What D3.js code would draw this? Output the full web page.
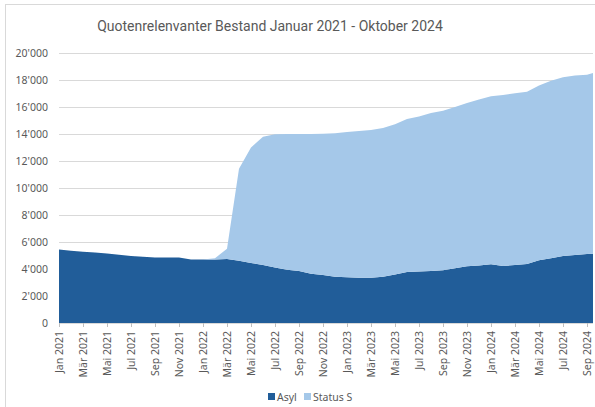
<!DOCTYPE html>
<html><head><meta charset="utf-8">
<script src="https://cdn.jsdelivr.net/npm/d3@7"></script>
<style>
html,body{margin:0;padding:0;background:#fff;}
svg{display:block;}
text{font-family:"Noto Sans","Open Sans",sans-serif;}
</style></head>
<body>
<svg id="c" width="595" height="407"></svg>
<script>
const months = ["Jan","Feb","Mär","Apr","Mai","Jun","Jul","Aug","Sep","Okt","Nov","Dez"];
const years = [2021, 2022, 2023, 2024];
const categories = [];
years.forEach(yr => months.forEach(m => categories.push(m + " " + yr)));
categories.splice(46); // Jan 2021 - Okt 2024

const asyl = [5450,5360,5280,5220,5140,5060,4970,4900,4850,4850,4850,4700,
              4700,4700,4740,4620,4450,4300,4120,3950,3850,3650,3550,3420,
              3380,3350,3350,3420,3600,3780,3820,3860,3900,4050,4200,4260,
              4350,4220,4300,4370,4650,4800,4960,5030,5110,5150];
const statusS = [0,0,0,0,0,0,0,0,0,0,0,0,
                 0,100,760,6800,8550,9500,9860,10050,10150,10350,10470,10630,
                 10770,10880,10950,11030,11120,11330,11480,11690,11820,11950,12100,12290,
                 12450,12670,12710,12760,12950,13150,13240,13300,13270,13500];
const seriesNames = ["Asyl","Status S"];
const colors = ["#215d99","#a5c8e9"];
const yTicks = [0,2000,4000,6000,8000,10000,12000,14000,16000,18000,20000];
const title = "Quotenrelenvanter Bestand Januar 2021 - Oktober 2024";

(function(){
const svg = d3.select("#c");
const W = 595, H = 407;
const pLeft = 59, pRight = 599, pTop = 53, pBottom = 323, clipRight = 593;

// chart frame
svg.append("rect").attr("x",5.5).attr("y",4.5).attr("width",W).attr("height",H)
  .attr("fill","none").attr("stroke","#d9d9d9");

const x = d3.scalePoint().domain(categories).range([pLeft, pRight]);
const y = d3.scaleLinear().domain([0,20000]).range([pBottom, pTop]);

// title
const t = svg.append("text").attr("x",270).attr("y",31).attr("text-anchor","middle")
  .attr("fill","#595959").attr("font-size",15).style("font-family","Roboto, 'Noto Sans', sans-serif")
  .text(title);
const tw = t.node().getComputedTextLength();
t.attr("font-size", 15 * 346 / tw);

// gridlines + y labels
const yAxis = d3.axisLeft(y).tickValues(yTicks).tickSize(-(clipRight-pLeft))
  .tickFormat(d => d3.format(",")(d).replace(/,/g,"'")).tickPadding(11);
const gy = svg.append("g").attr("transform",`translate(${pLeft},0)`).call(yAxis);
gy.select(".domain").remove();
gy.selectAll("line").attr("stroke","#d9d9d9").attr("stroke-width",1);
gy.selectAll("text").attr("fill","#595959").attr("font-size",10.5)
  .style("font-family","'Noto Sans','Open Sans',sans-serif");

// clip
svg.append("clipPath").attr("id","clip").append("rect")
  .attr("x",pLeft).attr("y",0).attr("width",clipRight-pLeft).attr("height",H);

const table = categories.map((c,i) => ({cat:c, "Asyl":asyl[i], "Status S":statusS[i]}));
const stack = d3.stack().keys(seriesNames)(table);
const area = d3.area().x(d => x(d.data.cat)).y0(d => y(d[0])).y1(d => y(d[1]));

svg.append("g").attr("clip-path","url(#clip)")
  .selectAll("path").data(stack).join("path")
  .attr("d", area).attr("fill", (d,i) => colors[i]);

// x axis
const labelCats = categories.filter((c,i) => i % 2 === 0);
const xAxis = d3.axisBottom(x).tickValues(labelCats).tickSize(4).tickPadding(4);
const gx = svg.append("g").attr("transform",`translate(0,${pBottom})`).call(xAxis);
gx.select(".domain").attr("stroke","#d9d9d9").attr("d",`M${pLeft},0.5H${clipRight}`);
gx.selectAll("line").attr("stroke","#bfbfbf");
gx.selectAll("text").attr("fill","#595959").attr("font-size",10.5)
  .style("font-family","'Noto Sans','Open Sans',sans-serif")
  .attr("transform","rotate(-90)").attr("text-anchor","end")
  .attr("x",-8).attr("y",0).attr("dy","0.35em");

// legend
const lg = svg.append("g");
const items = [{n:seriesNames[0],c:colors[0],x:268},{n:seriesNames[1],c:colors[1],x:304}];
items.forEach(it => {
  lg.append("rect").attr("x",it.x).attr("y",393).attr("width",7).attr("height",7).attr("fill",it.c);
  lg.append("text").attr("x",it.x+9).attr("y",400.5).attr("fill","#595959")
    .attr("font-size",10.5).text(it.n);
});
})();
</script>
</body></html>
